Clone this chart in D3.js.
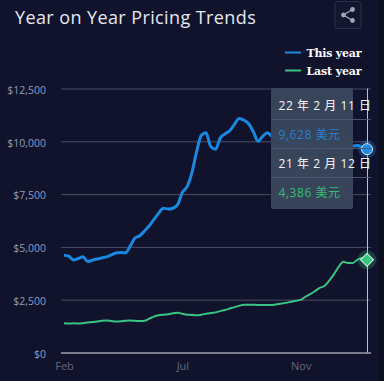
<!DOCTYPE html>
<html>
<head>
<meta charset="utf-8">
<script src="https://cdn.jsdelivr.net/npm/d3@7"></script>
<style>
  html, body { margin: 0; padding: 0; background: #10132b; overflow: hidden; }
  text { font-family: "Open Sans", "Noto Sans CJK SC", sans-serif; }
</style>
</head>
<body>
<div id="container"></div>
<script>
const yTicks = [0, 2500, 5000, 7500, 10000, 12500];
const xLabels = [[0, "Feb"], [25, "Jul"], [50, "Nov"]];

const thisYear = [4600, 4560, 4380, 4450, 4530, 4310, 4370, 4430, 4480, 4530, 4620, 4710, 4730, 4720, 5050, 5420,
  5530, 5750, 6000, 6300, 6600, 6830, 6790, 6830, 7000, 7580, 7850, 8500, 9500, 10280, 10400, 9750,
  9620, 10150, 10350, 10500, 10800, 11080, 11000, 10830, 10450, 10000, 10250, 10400, 10220, 10100, 10050, 10000,
  9950, 9900, 9900, 9850, 9850, 9800, 9800, 9850, 9800, 9750, 9800, 9850, 9800, 9780, 9800, 9720, 9628];

const lastYear = [1380, 1370, 1380, 1375, 1385, 1420, 1440, 1470, 1500, 1510, 1490, 1470, 1480, 1500, 1510, 1500,
  1490, 1500, 1600, 1700, 1760, 1790, 1810, 1860, 1880, 1830, 1790, 1780, 1760, 1790, 1830, 1870,
  1900, 1960, 2010, 2080, 2150, 2210, 2265, 2260, 2255, 2250, 2245, 2245, 2250, 2280, 2320, 2360, 2400, 2450,
  2490, 2640, 2760, 2900, 3060, 3150, 3400, 3700, 4050, 4300, 4240, 4240, 4400, 4475, 4386];

const width = 384;
const height = 381;
const marginTop = 88.5;
const marginBottom = 28.5;
const gridLeft = 61;
const gridRight = 371;

const blue = "#1a88e0";
const green = "#38c481";

const svg = d3.select("#container")
  .append("svg")
  .attr("width", width)
  .attr("height", height)
  .attr("viewBox", [0, 0, width, height])
  .style("display", "block");

const x = d3.scaleLinear([0, thisYear.length - 1], [64, 367]);
const y = d3.scaleLinear([0, 12500], [height - marginBottom, marginTop]);

// dark strip down the right edge of the screenshot
svg.append("rect")
  .attr("x", 379).attr("y", 0)
  .attr("width", 5).attr("height", height)
  .attr("fill", "#0a0d1e");

svg.append("text")
  .attr("x", 15).attr("y", 24)
  .attr("fill", "#e6e8f0")
  .attr("font-size", 18)
  .attr("letter-spacing", 0.4)
  .text("Year on Year Pricing Trends");

// share button
const share = svg.append("g").attr("transform", "translate(348,15)");
share.append("rect")
  .attr("x", -13).attr("y", -13.5)
  .attr("width", 26).attr("height", 27).attr("rx", 2)
  .attr("fill", "#12162f").attr("stroke", "#2a2e47");
share.append("path")
  .attr("d", "M4.5,-5.5L-4.5,0L4.5,5.5")
  .attr("fill", "none").attr("stroke", "#a0a5b9").attr("stroke-width", 1.3);
share.selectAll("circle").data([[4.5, -5.5], [-4.5, 0], [4.5, 5.5]]).join("circle")
  .attr("cx", d => d[0]).attr("cy", d => d[1]).attr("r", 2.4).attr("fill", "#a0a5b9");

// legend
const legend = svg.append("g").selectAll("g")
  .data([["This year", blue, 52.5], ["Last year", green, 70.5]])
  .join("g")
  .attr("transform", d => `translate(285,${d[2]})`);
legend.append("line")
  .attr("x2", 16)
  .attr("stroke", d => d[1]).attr("stroke-width", 2);
legend.append("text")
  .attr("x", 21.5).attr("y", 4)
  .attr("fill", "#fff")
  .attr("font-size", 11)
  .attr("font-weight", 700)
  .style("font-family", "'DejaVu Serif'")
  .attr("textLength", 55)
  .text(d => d[0]);

// y axis with the grid lines
svg.append("g")
  .attr("transform", `translate(${gridLeft},0)`)
  .call(d3.axisLeft(y).tickValues(yTicks).tickSize(0).tickPadding(15)
    .tickFormat(d => "$" + d3.format(",")(d)))
  .call(g => g.select(".domain").remove())
  .call(g => g.selectAll(".tick text").attr("fill", "#8e9dbf").attr("font-size", 10.5).attr("dy", "0.45em"))
  .call(g => g.selectAll(".tick line")
    .attr("x2", gridRight - gridLeft)
    .attr("stroke", d => d === 0 ? "#dfe2ee" : "#4a4d66"));

// x axis
svg.append("g")
  .attr("transform", `translate(0,${height - marginBottom})`)
  .call(d3.axisBottom(x).tickValues(xLabels.map(d => d[0])).tickSize(0).tickPadding(10)
    .tickFormat(d => xLabels.find(l => l[0] === d)[1]))
  .call(g => g.select(".domain").remove())
  .call(g => g.selectAll(".tick text").attr("fill", "#63677c").attr("font-size", 11));

const line = d3.line()
  .x((d, i) => x(i))
  .y(d => y(d))
  .curve(d3.curveMonotoneX);

svg.append("path")
  .attr("fill", "none").attr("stroke", blue).attr("stroke-width", 3)
  .attr("stroke-linejoin", "round")
  .attr("d", line(thisYear));

svg.append("path")
  .attr("fill", "none").attr("stroke", green).attr("stroke-width", 2)
  .attr("stroke-linejoin", "round")
  .attr("d", line(lastYear));

// hover crosshair
const last = thisYear.length - 1;
svg.append("line")
  .attr("x1", x(last) + 0.5).attr("x2", x(last) + 0.5)
  .attr("y1", marginTop).attr("y2", height - marginBottom)
  .attr("stroke", "#b8c0d8").attr("stroke-width", 1);

// hover markers
svg.append("circle")
  .attr("cx", x(last)).attr("cy", y(thisYear[last])).attr("r", 9)
  .attr("fill", blue).attr("fill-opacity", 0.3);
svg.append("circle")
  .attr("cx", x(last)).attr("cy", y(thisYear[last])).attr("r", 5.5)
  .attr("fill", "#1a8cea").attr("stroke", "#dbe9f6").attr("stroke-width", 1);

svg.append("circle")
  .attr("cx", x(last)).attr("cy", y(lastYear[last])).attr("r", 9.5)
  .attr("fill", green).attr("fill-opacity", 0.25);
svg.append("path")
  .attr("transform", `translate(${x(last)},${y(lastYear[last])}) rotate(45)`)
  .attr("d", d3.symbol(d3.symbolSquare, 85))
  .attr("fill", green).attr("stroke", "#e4f5ec").attr("stroke-width", 1);

// tooltip
const tipRows = [
  ["22 年 2 月 11 日", "#f7f8fb"],
  ["9,628 美元", "#2a7fd0"],
  ["21 年 2 月 12 日", "#f7f8fb"],
  ["4,386 美元", "#33bf74"]
];
const tip = svg.append("g").attr("transform", "translate(271,88)");
tip.append("rect")
  .attr("width", 82).attr("height", 121).attr("rx", 2)
  .attr("fill", "#39465c").attr("fill-opacity", 0.97);
tip.selectAll("line").data([31, 60, 89]).join("line")
  .attr("x1", 0).attr("x2", 100)
  .attr("y1", d => d + 0.5).attr("y2", d => d + 0.5)
  .attr("stroke", "#4a566c");
tip.selectAll("text").data(tipRows).join("text")
  .attr("x", 7.5)
  .attr("y", (d, i) => 21.5 + i * 29)
  .attr("fill", d => d[1])
  .attr("font-size", 12)
  .style("font-family", "'Open Sans','Noto Sans CJK SC'")
  .attr("letter-spacing", 0.55)
  .text(d => d[0]);
</script>
</body>
</html>
